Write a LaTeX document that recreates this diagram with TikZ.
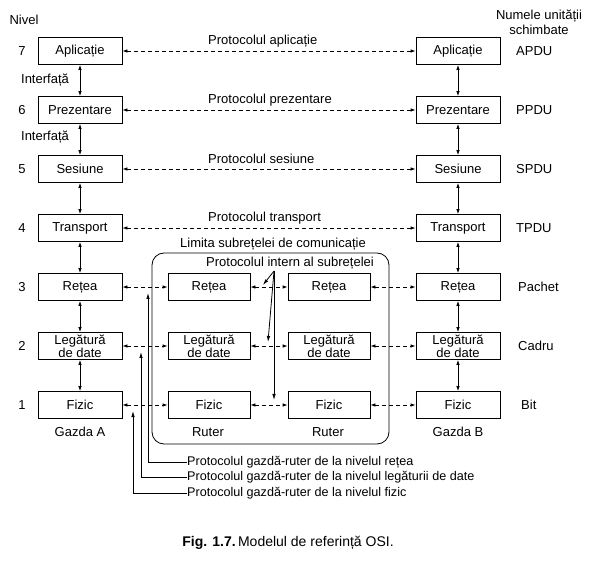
\documentclass[tikz,border=0pt]{standalone}
\usepackage{fontspec}
\setmainfont{Liberation Sans}
\usetikzlibrary{arrows.meta}

\tikzset{
  layer/.style={draw, line width=0.8pt, minimum width=84pt, minimum height=27pt, inner sep=1pt, align=center},
  ruterbox/.style={layer, minimum width=82pt},
  iface/.style={line width=0.8pt, {Latex[length=5pt,width=3.5pt]}-{Latex[length=5pt,width=3.5pt]}},
  peer/.style={iface, dash pattern=on 4pt off 3pt},
  pointer/.style={line width=0.8pt, -{Latex[length=6pt,width=3.5pt]}},
  lbl/.style={inner sep=0pt},
  note/.style={lbl, anchor=west, font=\fontsize{12.6}{12}\selectfont}
}

\begin{document}
\begin{tikzpicture}[x=1pt, y=-1pt, font=\fontsize{13}{12}\selectfont]
        \useasboundingbox (0,0) rectangle (592,569);
        % Headers
        \node[lbl] (nivel) at (24,20) {Nivel};
        \node[lbl, align=center] (numele) at (539,22) {Numele unității\\[2pt] schimbate};
        % Gazda A
        \node[layer] (ga7) at (80,51) {Aplicație};
        \node[layer] (ga6) at (80,110) {Prezentare};
        \node[layer] (ga5) at (80,169) {Sesiune};
        \node[layer] (ga4) at (80,228) {Transport};
        \node[layer] (ga3) at (80,287) {Rețea};
        \node[layer] (ga2) at (80,346) {Legătură\\de date};
        \node[layer] (ga1) at (80,405) {Fizic};
        % Gazda B
        \node[layer] (gb7) at (458,51) {Aplicație};
        \node[layer] (gb6) at (458,110) {Prezentare};
        \node[layer] (gb5) at (458,169) {Sesiune};
        \node[layer] (gb4) at (458,228) {Transport};
        \node[layer] (gb3) at (458,287) {Rețea};
        \node[layer] (gb2) at (458,346) {Legătură\\de date};
        \node[layer] (gb1) at (458,405) {Fizic};
        % Rutere
        \node[ruterbox] (ra3) at (209,287) {Rețea};
        \node[ruterbox] (ra2) at (209,346) {Legătură\\de date};
        \node[ruterbox] (ra1) at (209,405) {Fizic};
        \node[ruterbox] (rb3) at (329,287) {Rețea};
        \node[ruterbox] (rb2) at (329,346) {Legătură\\de date};
        \node[ruterbox] (rb1) at (329,405) {Fizic};
        % Subretea
        \draw[line width=0.8pt, rounded corners=12pt] (152,253) rectangle (389,444);
        \node[lbl] (limita) at (273,244) {Limita subrețelei de comunicație};
        \node[lbl] (intern) at (290,263) {Protocolul intern al subrețelei};
        % Niveluri
        \node[lbl] (n7) at (22,51) {7};
        \node[lbl] (n6) at (22,110) {6};
        \node[lbl] (n5) at (22,169) {5};
        \node[lbl] (n4) at (22,228) {4};
        \node[lbl] (n3) at (22,287) {3};
        \node[lbl] (n2) at (22,346) {2};
        \node[lbl] (n1) at (22,405) {1};
        \node[lbl] (if1) at (45,80) {Interfață};
        \node[lbl] (if2) at (45,137) {Interfață};
        % Unitati
        \node[lbl, anchor=west] (u7) at (516,51) {APDU};
        \node[lbl, anchor=west] (u6) at (516,110) {PPDU};
        \node[lbl, anchor=west] (u5) at (516,169) {SPDU};
        \node[lbl, anchor=west] (u4) at (516,228) {TPDU};
        \node[lbl, anchor=west] (u3) at (518,287) {Pachet};
        \node[lbl, anchor=west] (u2) at (518,346) {Cadru};
        \node[lbl, anchor=west] (u1) at (521,405) {Bit};
        \node[lbl] (gazdaA) at (80,432) {Gazda A};
        \node[lbl] (ruterA) at (208,432) {Ruter};
        \node[lbl] (ruterB) at (328,432) {Ruter};
        \node[lbl] (gazdaB) at (458,432) {Gazda B};
        % Interfete
        \foreach \i/\j in {7/6, 6/5, 5/4, 4/3, 3/2, 2/1} {
          \draw[iface] (ga\i) -- (ga\j);
          \draw[iface] (gb\i) -- (gb\j);
        }
        % Protocoale
        \draw[peer] (ga7) -- (gb7);
        \draw[peer] (ga6) -- (gb6);
        \draw[peer] (ga5) -- (gb5);
        \draw[peer] (ga4) -- (gb4);
        \node[lbl, anchor=west] (p7) at (208,41) {Protocolul aplicație};
        \node[lbl, anchor=west] (p6) at (208,100) {Protocolul prezentare};
        \node[lbl, anchor=west] (p5) at (208,159) {Protocolul sesiune};
        \node[lbl, anchor=west] (p4) at (208,218) {Protocolul transport};
        \foreach \k in {3, 2, 1} {
          \draw[peer] (ga\k) -- (ra\k);
          \draw[peer] (ra\k) -- (rb\k);
          \draw[peer] (rb\k) -- (gb\k);
        }
        % Protocol intern
        \coordinate (fan) at (274,271);
        \coordinate (t3) at (263,285);
        \coordinate (t2) at (268,342);
        \coordinate (t1) at (274,400);
        \draw[pointer] (fan) -- (t3);
        \draw[pointer] (fan) -- (t2);
        \draw[pointer] (fan) -- (t1);
        % Protocoale gazda-ruter
        \node[note] (hr3) at (187,462) {Protocolul gazdă-ruter de la nivelul rețea};
        \node[note] (hr2) at (187,477) {Protocolul gazdă-ruter de la nivelul legăturii de date};
        \node[note] (hr1) at (187,493) {Protocolul gazdă-ruter de la nivelul fizic};
        \coordinate (h3) at (148,293);
        \coordinate (h2) at (141,352);
        \coordinate (h1) at (133,411);
        \draw[pointer] (hr3.west) -| (h3);
        \draw[pointer] (hr2.west) -| (h2);
        \draw[pointer] (hr1.west) -| (h1);
        % Caption
        \node[lbl, font=\fontsize{14}{16}\selectfont] (fig) at (288,543) {\textbf{Fig. 1.7.}\,Modelul de referință OSI.};
    \end{tikzpicture}
\end{document}
